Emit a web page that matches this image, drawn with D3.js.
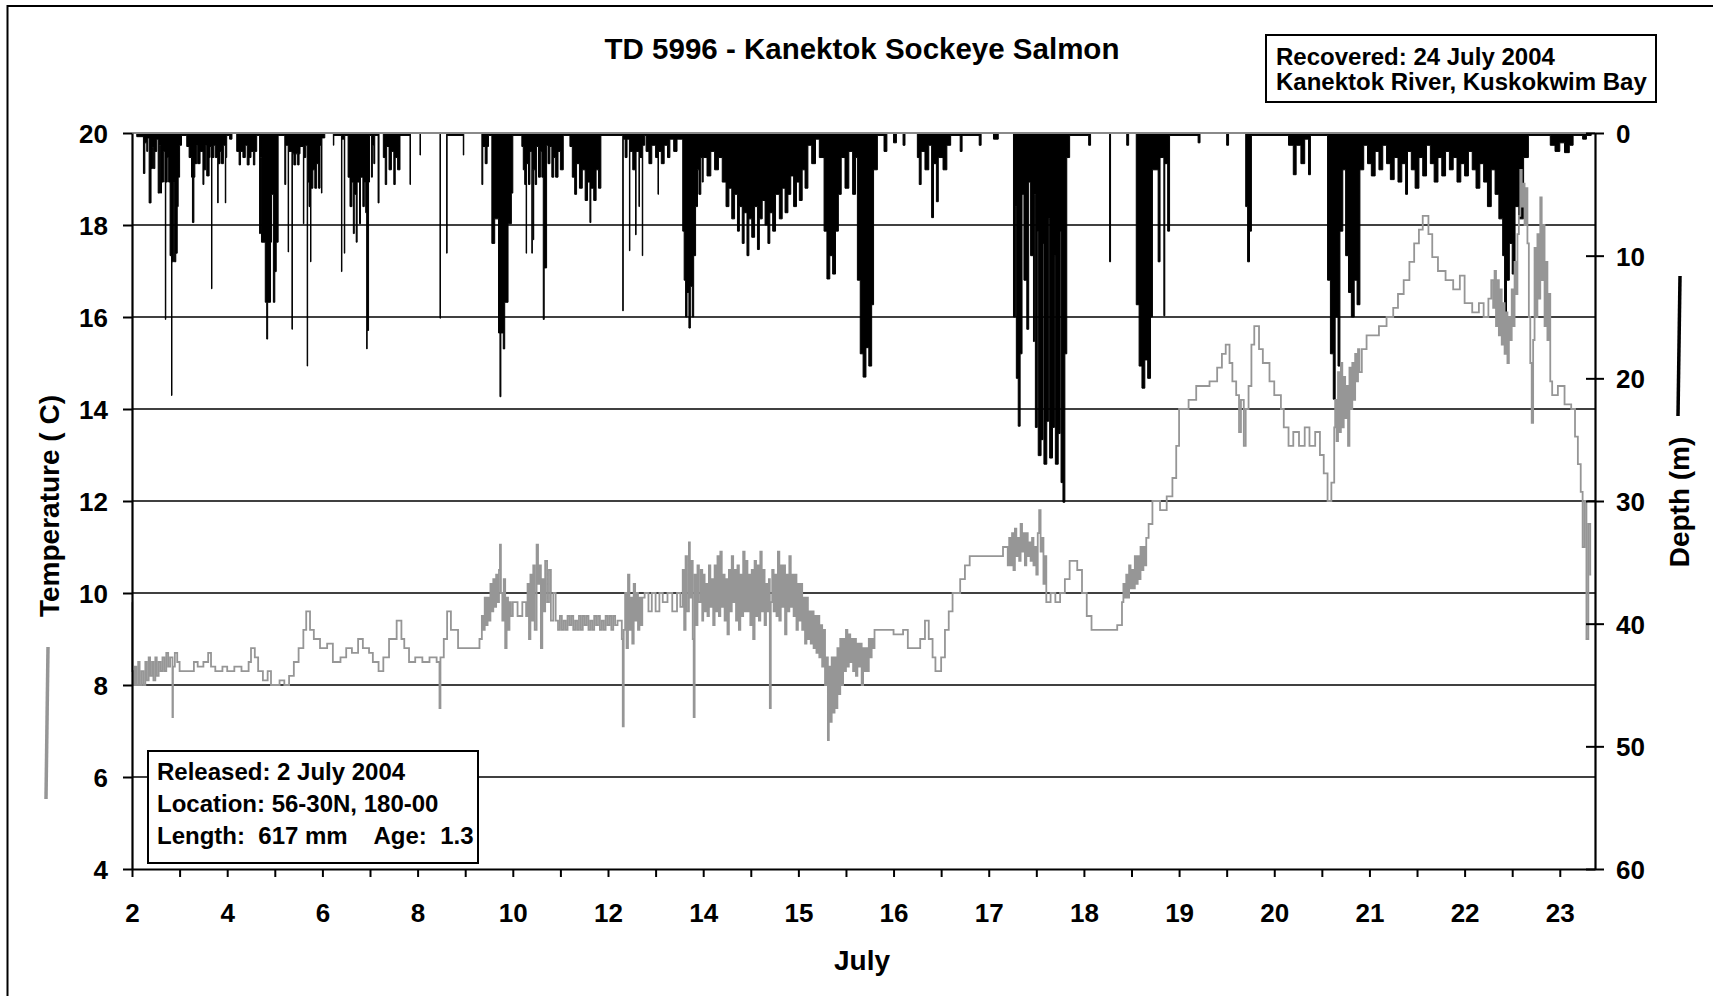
<!DOCTYPE html>
<html><head><meta charset="utf-8">
<script src="https://cdn.jsdelivr.net/npm/d3@7"></script>
<style>
html,body{margin:0;padding:0;background:#fff;}
svg{display:block;font-family:"Liberation Sans",Arial,sans-serif;font-weight:bold;}
</style></head><body>
<svg id="chart" width="1713" height="996"></svg>
<script>
// Temperature (°C) vs July day
const tempSeries = [
[2.00,9.8],[2.005,8.3],[2.02,8.0],[2.06,8.4],[2.09,8.0],[2.13,8.5],[2.16,8.0],[2.20,8.3],[2.24,8.0],[2.28,8.5],[2.31,8.1],[2.35,8.6],[2.38,8.2],[2.42,8.5],[2.45,8.1],[2.49,8.6],[2.52,8.2],[2.56,8.5],[2.60,8.3],[2.64,8.6],[2.68,8.3],[2.72,8.7],[2.76,8.4],[2.80,8.6],[2.85,7.3],[2.86,8.4],[2.90,8.7],[2.95,8.5],[3.00,8.3],[3.18,8.3],[3.30,8.5],[3.38,8.4],[3.50,8.5],[3.60,8.7],[3.66,8.4],[3.75,8.3],[3.90,8.4],[4.00,8.3],[4.15,8.4],[4.30,8.3],[4.45,8.5],[4.50,8.8],[4.58,8.6],[4.65,8.3],[4.75,8.1],[4.85,8.3],[4.92,8.0],[5.10,8.1],[5.20,8.0],[5.30,8.2],[5.40,8.5],[5.50,8.8],[5.60,9.2],[5.66,9.6],[5.74,9.2],[5.82,9.0],[5.95,8.8],[6.10,8.9],[6.22,8.5],[6.38,8.6],[6.50,8.8],[6.62,8.7],[6.75,9.0],[6.85,8.8],[6.98,8.7],[7.06,8.5],[7.18,8.3],[7.28,8.6],[7.40,9.0],[7.56,9.4],[7.66,9.0],[7.72,8.8],[7.82,8.5],[7.95,8.6],[8.10,8.5],[8.25,8.6],[8.40,8.5],[8.46,7.5],[8.48,8.6],[8.55,9.0],[8.62,9.6],[8.70,9.2],[8.85,8.8],[9.10,8.8],[9.30,9.0],
[9.35,9.5],[9.38,9.2],[9.41,9.9],[9.44,9.3],[9.47,9.9],[9.50,9.4],[9.53,10.2],[9.56,9.6],[9.59,10.3],[9.62,9.7],[9.65,10.4],[9.68,9.8],[9.71,10.5],[9.73,11.05],[9.75,10.0],[9.78,9.4],[9.81,10.3],[9.84,8.8],[9.87,9.9],[9.90,9.2],[9.93,9.8],[9.96,9.5],
[10.00,9.8],[10.10,9.5],[10.20,9.8],[10.28,9.5],
[10.31,10.2],[10.34,9.0],[10.37,10.4],[10.40,9.4],[10.43,10.6],[10.46,9.2],[10.50,11.05],[10.53,10.2],[10.56,10.6],[10.59,8.8],[10.62,10.3],[10.65,9.6],[10.68,10.7],[10.72,9.8],[10.76,10.5],[10.80,9.4],[10.85,10.0],[10.90,9.4],
[10.95,9.2],[10.99,9.5],[11.03,9.2],[11.07,9.4],[11.11,9.2],[11.15,9.5],[11.19,9.3],[11.23,9.5],[11.27,9.2],[11.31,9.4],[11.35,9.2],[11.39,9.5],[11.43,9.2],[11.47,9.5],[11.51,9.3],[11.55,9.5],[11.59,9.2],[11.63,9.4],[11.67,9.2],[11.71,9.5],[11.75,9.3],[11.79,9.5],[11.83,9.2],[11.87,9.4],[11.91,9.2],[11.95,9.5],[11.99,9.3],[12.03,9.5],[12.07,9.2],[12.11,9.5],[12.15,9.3],[12.20,9.4],
[12.29,9.0],[12.31,7.1],[12.33,9.2],[12.36,10.0],[12.39,8.8],[12.42,10.4],[12.45,9.2],[12.48,9.9],[12.51,8.9],[12.54,10.2],[12.57,9.4],[12.60,10.0],[12.63,9.2],[12.66,9.9],[12.69,9.3],[12.72,9.9],[12.77,10.0],
[12.85,9.6],[12.92,10.0],[13.00,9.6],[13.08,10.0],[13.15,9.8],[13.25,10.0],[13.35,9.6],[13.45,10.0],[13.52,9.7],
[13.57,10.5],[13.60,9.2],[13.63,10.8],[13.66,9.6],[13.70,11.1],[13.72,9.9],[13.75,10.7],[13.78,9.0],[13.80,7.3],[13.82,10.4],[13.85,9.3],[13.88,10.6],[13.91,9.8],[13.95,10.5],[13.98,9.4],
[14.000,10.4],[14.015,9.6],[14.030,10.2],[14.045,9.5],[14.060,10.6],[14.075,9.7],[14.090,10.3],[14.105,9.3],[14.120,10.6],[14.135,9.6],[14.150,10.8],[14.165,9.5],[14.180,10.9],[14.195,9.7],[14.210,10.4],[14.225,9.4],[14.240,10.3],[14.255,9.1],[14.270,10.5],[14.285,9.6],[14.300,10.8],[14.315,9.8],[14.330,10.5],[14.345,9.4],[14.360,10.6],[14.375,9.2],[14.390,10.4],[14.405,9.5],[14.420,10.9],[14.435,9.6],[14.450,10.7],[14.465,9.6],[14.480,10.4],[14.495,9.3],[14.510,10.5],[14.525,9.0],[14.540,10.7],[14.555,9.5],[14.570,10.6],[14.585,9.4],[14.600,10.9],[14.615,9.6],[14.630,10.5],[14.645,9.3],[14.660,10.2],[14.675,9.6],[14.690,10.3],[14.700,7.5],[14.710,9.8],[14.725,10.5],[14.740,9.6],[14.755,10.4],[14.770,9.5],[14.785,10.9],[14.800,9.4],[14.815,10.6],[14.830,9.7],[14.845,10.6],[14.860,9.1],[14.875,10.4],[14.890,9.6],[14.905,10.8],[14.920,9.7],[14.935,10.4],[14.950,9.5],[14.965,10.4],[14.980,9.2],[14.995,10.2],[15.010,9.4],[15.025,10.2],[15.040,9.2],[15.055,9.9],[15.070,8.9],[15.085,9.9],[15.100,9.0],
[15.115,9.6],[15.130,8.9],[15.145,9.6],[15.160,8.8],[15.175,9.5],[15.190,8.7],[15.205,9.5],[15.220,8.6],[15.235,9.3],[15.250,8.4],[15.265,9.2],[15.280,8.0],[15.295,8.6],[15.310,6.8],[15.320,8.4],[15.335,7.2],[15.350,8.6],[15.365,7.4],[15.380,8.6],[15.395,7.5],[15.410,8.8],[15.425,7.8],[15.440,9.0],[15.455,8.0],[15.470,9.0],[15.485,8.3],[15.500,9.2],[15.515,8.4],[15.530,9.1],[15.545,8.5],[15.560,9.0],[15.575,8.3],[15.590,9.0],[15.605,8.2],[15.620,8.9],[15.635,8.4],[15.650,8.9],[15.665,8.0],[15.680,8.8],[15.695,8.3],[15.710,8.8],[15.725,8.3],[15.740,9.0],[15.755,8.6],[15.770,9.0],[15.785,8.8],[15.800,9.2],
[15.90,9.2],[16.00,9.1],[16.10,9.2],[16.15,8.8],[16.28,9.0],[16.33,9.4],[16.37,9.0],[16.41,8.6],[16.44,8.3],[16.50,8.6],[16.54,9.2],[16.58,9.6],[16.62,10.0],[16.70,10.3],[16.75,10.6],[16.80,10.8],[17.10,10.8],[17.15,11.0],
[17.200,10.6],[17.215,11.2],[17.230,10.6],[17.245,11.3],[17.260,10.5],[17.275,11.4],[17.290,10.8],[17.305,11.2],[17.320,10.7],[17.335,11.5],[17.350,10.9],[17.365,11.3],[17.380,10.6],[17.395,11.3],[17.410,10.8],[17.425,11.1],[17.440,10.7],[17.455,11.2],[17.470,10.6],[17.485,11.0],[17.500,10.4],[17.515,11.3],[17.530,11.8],[17.545,10.9],[17.560,11.2],[17.575,10.2],[17.590,10.8],[17.605,9.8],
[17.65,10.0],[17.70,9.8],[17.75,10.0],[17.80,10.3],[17.85,10.7],[17.93,10.5],[17.98,10.0],[18.03,9.5],[18.08,9.2],[18.35,9.3],[18.40,9.8],
[18.415,10.2],[18.430,9.9],[18.445,10.4],[18.460,9.9],[18.475,10.6],[18.490,10.1],[18.505,10.5],[18.520,10.1],[18.535,10.8],[18.550,10.2],[18.565,10.8],[18.580,10.3],[18.595,11.0],[18.610,10.5],[18.625,11.0],[18.640,10.6],[18.655,11.2],
[18.68,11.5],[18.72,12.0],[18.80,11.8],[18.87,12.1],[18.93,12.5],[18.97,13.2],[19.00,14.0],[19.10,14.2],[19.18,14.5],[19.32,14.6],[19.40,14.9],[19.45,15.2],[19.49,15.4],[19.53,15.0],[19.56,14.6],[19.60,14.3],[19.63,13.5],[19.65,14.2],[19.68,13.2],[19.70,14.0],[19.73,14.5],[19.76,15.4],[19.79,15.8],[19.84,15.3],[19.88,15.0],[19.95,14.6],[20.00,14.3],[20.07,14.0],[20.10,13.6],[20.15,13.2],[20.20,13.5],[20.26,13.2],[20.32,13.6],[20.37,13.2],[20.43,13.5],[20.48,13.0],[20.52,12.6],[20.56,12.0],[20.60,12.4],[20.63,13.6],
[20.640,14.2],[20.655,13.3],[20.670,14.8],[20.685,13.5],[20.700,15.0],[20.715,13.6],[20.730,14.7],[20.745,13.8],[20.760,14.5],[20.775,13.2],[20.790,14.9],[20.805,14.0],[20.820,15.0],[20.835,14.2],[20.850,15.2],[20.865,14.6],[20.880,15.3],[20.895,14.8],
[20.92,15.3],[20.97,15.6],[21.05,15.6],[21.10,15.8],[21.18,16.0],[21.25,16.2],[21.30,16.5],[21.36,16.8],[21.42,17.2],[21.47,17.6],[21.52,17.9],[21.56,18.2],[21.62,17.8],[21.66,17.3],[21.72,17.0],[21.80,16.8],[21.88,16.6],[21.95,16.9],[22.00,16.3],[22.08,16.1],[22.15,16.3],[22.20,16.0],[22.25,16.4],[22.28,16.8],
[22.300,16.2],[22.315,17.0],[22.330,15.8],[22.345,16.8],[22.360,15.6],[22.375,16.6],[22.390,15.4],[22.405,16.3],[22.420,15.2],[22.435,16.1],[22.450,15.0],[22.465,16.0],[22.480,15.5],[22.495,16.6],[22.510,15.8],[22.525,17.2],[22.540,16.5],[22.555,17.8],[22.570,18.2],[22.585,19.2],[22.600,18.4],[22.615,18.9],[22.630,18.0],[22.645,18.8],[22.660,17.6],[22.675,16.0],[22.690,15.0],[22.705,13.7],[22.720,15.5],[22.735,17.5],[22.750,16.0],[22.765,17.8],[22.780,16.4],[22.795,18.6],[22.810,16.8],[22.825,18.0],[22.840,15.8],[22.855,17.2],[22.870,15.5],[22.885,16.5],[22.900,14.6],
[22.92,14.3],[22.98,14.5],[23.05,14.1],[23.12,14.0],[23.16,13.4],[23.19,12.8],[23.22,12.2],[23.24,11.0],[23.26,12.0],[23.28,9.0],[23.30,11.5],[23.32,10.4],[23.33,10.4]
];

// Depth (m) vs July day
const depthSeries = [
[2.00,0],[2.10,0.3],[2.24,3.3],[2.27,0.8],[2.31,1.5],[2.33,0.4],[2.36,5.7],[2.40,2.9],[2.43,1.2],[2.45,2.9],[2.48,1.5],[2.52,0.5],[2.55,4.9],[2.58,1.0],[2.60,4.9],[2.62,4.0],[2.66,1.5],[2.69,4.0],[2.70,15.2],[2.71,4.0],[2.74,2.0],[2.77,4.0],[2.80,10.0],[2.83,21.4],[2.84,10.5],[2.87,4.0],[2.89,10.5],[2.92,9.8],[2.95,6.0],[2.97,3.6],[3.00,1.0],[3.04,0.2],
[3.15,1.1],[3.20,2.0],[3.25,3.6],[3.27,7.3],[3.30,3.6],[3.32,2.5],[3.36,1.0],[3.38,2.5],[3.43,1.5],[3.49,4.2],[3.51,3.0],[3.55,1.0],[3.57,3.5],[3.62,2.0],[3.64,1.1],[3.67,12.7],[3.68,2.0],[3.72,1.0],[3.75,2.0],[3.80,5.7],[3.81,2.5],[3.85,1.5],[3.88,2.5],[3.92,1.0],[3.96,5.7],[3.97,2.0],[3.99,0.2],
[4.05,0.5],[4.10,0],[4.20,1.5],[4.25,2.6],[4.28,1.5],[4.33,2.0],[4.38,1.0],[4.42,2.6],[4.46,2.0],[4.50,1.5],[4.55,2.6],[4.58,1.5],[4.62,0.2],[4.68,8.2],[4.70,2.0],[4.72,8.9],[4.80,13.8],[4.83,16.8],[4.85,13.8],[4.91,8.9],[4.93,5.0],[4.97,13.8],[5.00,11.3],[5.03,8.9],[5.07,0.2],
[5.21,4.2],[5.23,1.0],[5.28,9.7],[5.29,1.5],[5.36,16.0],[5.37,1.7],[5.40,2.6],[5.44,1.7],[5.48,2.6],[5.51,1.7],[5.53,1.1],[5.60,7.4],[5.61,2.0],[5.65,1.0],[5.68,19.0],[5.69,4.0],[5.72,6.0],[5.75,10.5],[5.76,4.5],[5.80,3.0],[5.84,4.5],[5.88,2.5],[5.92,4.5],[5.95,1.0],[5.98,4.9],[5.99,0.4],[6.05,0],[6.23,1.0],[6.24,0.2],[6.40,11.3],[6.41,0.5],[6.46,9.8],[6.47,0.2],
[6.54,3.6],[6.58,6.0],[6.62,4.0],[6.65,8.2],[6.67,5.0],[6.71,8.9],[6.73,4.0],[6.78,7.4],[6.80,3.6],[6.85,6.0],[6.88,4.0],[6.91,6.5],[6.93,17.6],[6.94,16.1],[6.97,4.0],[6.99,0.2],[7.03,3.6],[7.05,1.0],[7.08,2.5],[7.10,0.2],[7.17,5.7],[7.19,0],
[7.28,2.0],[7.32,4.2],[7.35,1.1],[7.40,3.0],[7.45,1.5],[7.50,4.2],[7.53,2.0],[7.58,3.0],[7.63,0.2],[7.84,4.2],[7.85,0],[8.05,1.8],[8.06,0],[8.47,15.1],[8.48,0],[8.61,9.8],[8.62,0.2],[8.96,1.8],[8.97,0],
[9.35,4.2],[9.37,1.1],[9.42,2.5],[9.46,1.1],[9.49,0.2],[9.56,9.0],[9.62,7.0],[9.70,16.3],[9.73,21.5],[9.75,16.3],[9.80,17.6],[9.83,13.8],[9.90,7.4],[9.97,4.9],[10.00,0.2],
[10.19,1.1],[10.22,3.0],[10.25,4.2],[10.28,9.8],[10.29,2.5],[10.33,4.2],[10.36,1.5],[10.40,9.8],[10.41,3.0],[10.43,8.7],[10.44,3.0],[10.47,4.2],[10.50,1.1],[10.54,3.6],[10.58,1.5],[10.61,3.6],[10.64,15.2],[10.66,11.0],[10.71,1.0],[10.74,2.5],[10.78,1.1],[10.82,3.6],[10.86,2.0],[10.90,3.6],[10.95,1.5],[11.00,3.0],[11.06,0.2],
[11.20,1.1],[11.25,3.6],[11.30,5.0],[11.34,2.5],[11.40,4.5],[11.46,3.0],[11.52,5.5],[11.57,4.0],[11.62,7.3],[11.64,4.5],[11.70,5.5],[11.75,3.0],[11.80,4.5],[11.85,0.2],
[12.00,0.2],[12.31,14.5],[12.32,0.5],[12.36,2.0],[12.40,0.5],[12.45,9.6],[12.46,1.5],[12.52,3.0],[12.58,8.3],[12.59,1.5],[12.65,6.0],[12.66,2.0],[12.72,10.0],[12.73,1.0],[12.77,0.2],[12.80,1.5],[12.86,2.5],[12.92,1.0],[13.00,2.0],[13.05,5.0],[13.06,1.5],[13.12,2.5],[13.18,1.0],[13.25,2.0],[13.30,0.5],[13.38,1.5],[13.45,0.5],[13.57,8.0],[13.60,12.0],[13.63,15.0],[13.66,13.0],[13.70,15.9],[13.73,12.5],[13.77,15.0],[13.80,10.0],[13.84,6.0],[13.88,3.0],[13.91,5.0],[13.95,2.0],[13.98,4.0],
[14.00,2.0],[14.04,3.5],[14.08,1.5],[14.12,3.0],[14.16,2.0],[14.20,4.0],[14.24,6.0],[14.27,4.5],[14.30,7.0],[14.33,5.0],[14.36,8.0],[14.38,6.0],[14.41,9.0],[14.43,6.5],[14.46,10.0],[14.48,7.0],[14.51,8.5],[14.54,6.0],[14.57,9.5],[14.59,7.0],[14.62,5.5],[14.65,7.5],[14.68,9.0],[14.70,6.5],[14.73,8.0],[14.76,5.0],[14.80,7.0],[14.83,4.5],[14.86,6.5],[14.89,5.0],[14.92,3.5],[14.95,6.0],[14.98,4.0],[15.01,5.5],[15.04,3.0],[15.07,4.5],[15.10,1.0],[15.14,2.5],[15.18,0.5],[15.22,2.0],
[15.27,8.0],[15.30,11.9],[15.33,10.0],[15.36,11.5],[15.39,8.0],[15.42,5.0],[15.45,2.0],[15.49,4.5],[15.53,1.5],[15.57,5.0],[15.60,2.0],
[15.62,12.0],[15.65,18.0],[15.68,19.9],[15.71,17.5],[15.74,19.0],[15.77,14.0],[15.79,3.0],[15.83,0.2],[15.90,1.5],[15.93,0],[16.00,0.8],[16.03,0],[16.10,1.0],[16.12,0],
[16.25,2.0],[16.27,4.2],[16.29,1.5],[16.33,3.0],[16.37,1.0],[16.40,6.9],[16.42,2.5],[16.45,5.6],[16.47,2.0],[16.52,3.0],[16.56,1.0],[16.60,0.2],[16.70,1.5],[16.72,0.2],[16.90,1.0],[16.92,0],[17.05,0.5],[17.10,0],
[17.26,15.0],[17.28,6.0],[17.29,20.0],[17.31,23.9],[17.33,18.0],[17.35,5.0],[17.37,12.0],[17.40,16.0],[17.42,4.0],[17.44,10.0],[17.47,17.0],[17.48,5.0],
[17.49,24.0],[17.51,8.0],[17.52,26.3],[17.55,25.0],[17.57,9.0],[17.58,27.0],[17.61,23.5],[17.63,7.0],[17.64,26.5],[17.67,24.0],[17.69,10.0],[17.70,27.0],[17.73,24.5],[17.75,8.0],[17.76,28.5],[17.78,30.1],[17.80,18.0],[17.82,2.0],[17.85,0.2],
[18.05,1.0],[18.07,0],[18.27,10.5],[18.28,0],[18.45,1.0],[18.47,0],
[18.55,14.0],[18.58,19.0],[18.61,20.8],[18.64,18.5],[18.67,20.0],[18.70,15.0],[18.72,3.0],[18.78,10.5],[18.80,2.0],[18.84,14.9],[18.85,2.5],[18.88,8.0],[18.90,0.2],
[19.20,0.8],[19.22,0],[19.50,1.0],[19.52,0],
[19.70,6.0],[19.72,10.5],[19.74,8.0],[19.76,0.2],
[20.15,1.0],[20.20,3.4],[20.23,1.0],[20.28,2.5],[20.32,0.5],[20.36,3.4],[20.38,0.2],
[20.56,12.0],[20.59,18.0],[20.62,21.7],[20.64,15.0],[20.67,19.0],[20.69,8.0],[20.72,3.0],
[20.75,10.0],[20.78,13.0],[20.81,15.0],[20.84,12.0],[20.87,14.0],[20.90,3.0],[20.94,1.0],
[20.98,2.5],[21.02,3.5],[21.06,1.5],[21.10,3.0],[21.14,1.0],[21.18,2.5],[21.22,3.8],[21.26,2.0],[21.30,4.0],[21.34,2.5],[21.38,5.0],[21.40,1.5],[21.44,3.0],[21.48,4.5],[21.52,2.0],[21.56,3.5],[21.60,1.0],[21.64,2.5],[21.68,4.0],[21.72,2.0],[21.76,3.5],[21.80,1.5],[21.84,3.0],[21.88,2.0],[21.92,4.0],[21.96,2.5],[22.00,3.5],[22.04,1.5],[22.08,3.0],[22.12,4.5],[22.16,2.5],[22.20,4.0],[22.24,6.0],[22.28,3.0],[22.32,5.0],[22.36,7.0],
[22.40,10.0],[22.42,15.0],[22.44,12.0],[22.47,9.0],[22.50,11.5],[22.53,6.0],[22.57,7.0],[22.62,2.0],[22.67,0.2],
[22.90,1.0],[22.95,1.5],[23.00,0.8],[23.05,1.6],[23.10,1.0],[23.14,0.2],[23.24,0.5],[23.28,0.2],[23.33,0.2]
];

const xTickLabels = [2,4,6,8,10,12,14,15,16,17,18,19,20,21,22,23];
const tempTicks = [4,6,8,10,12,14,16,18,20];
const tempGrid = [6,8,10,12,14,16,18];
const depthTicks = [0,10,20,30,40,50,60];
const titleText = "TD 5996 - Kanektok Sockeye Salmon";
const recoveredLines = ["Recovered: 24 July 2004", "Kanektok River, Kuskokwim Bay"];
const releasedLines = ["Released: 2 July 2004", "Location: 56-30N, 180-00", "Length:  617 mm    Age:  1.3"];
const xTitle = "July", yLeftTitle = "Temperature ( C)", yRightTitle = "Depth (m)";

const svg = d3.select("#chart");
const L = 132, R = 1595, T = 133, B = 869;
const x = d3.scaleLinear().domain([2, 14, 23.37]).range([L, 703.2, R]);
const yT = d3.scaleLinear().domain([4, 20]).range([B, T]);
const yD = d3.scaleLinear().domain([0, 60]).range([T, B]);

// outer frame
svg.append("rect").attr("x", 7.5).attr("y", 6).attr("width", 1760).attr("height", 1060)
  .attr("fill", "none").attr("stroke", "#000").attr("stroke-width", 2);

// gridlines
svg.append("g").selectAll("line").data(tempGrid).join("line")
  .attr("x1", L).attr("x2", R).attr("y1", d => yT(d)).attr("y2", d => yT(d))
  .attr("stroke", "#000").attr("stroke-width", 1.3);

// depth series
const depthArea = d3.area().x(d => x(d[0])).y0(yD(0)).y1(d => yD(d[1])).curve(d3.curveStepAfter);
svg.append("path").datum(depthSeries).attr("d", depthArea)
  .attr("fill", "#000").attr("stroke", "#000").attr("stroke-width", 1);

// temperature series
const tempLine = d3.line().x(d => x(d[0])).y(d => yT(d[1])).curve(d3.curveStepAfter);
svg.append("path").datum(tempSeries).attr("d", tempLine)
  .attr("fill", "none").attr("stroke", "#969696").attr("stroke-width", 1.8);

// top border of plot
svg.append("line").attr("x1", L).attr("x2", R).attr("y1", T).attr("y2", T)
  .attr("stroke", "#8a8a8a").attr("stroke-width", 2);

// x axis
const labelPos = xTickLabels;
const minorPos = d3.pairs(labelPos).map(([a, b]) => (a + b) / 2);
const allTicks = labelPos.concat(minorPos).sort((a, b) => a - b);
const gx = svg.append("g").attr("transform", `translate(0,${B})`)
  .call(d3.axisBottom(x).tickValues(allTicks).tickSize(8).tickSizeOuter(0)
    .tickFormat(d => labelPos.includes(d) ? d : ""));
gx.select(".domain").attr("stroke-width", 2.2);
gx.selectAll(".tick line").attr("stroke-width", 2);
gx.selectAll(".tick text").attr("y", 53).attr("dy", null)
  .attr("font-size", 26).attr("font-family", "Liberation Sans, Arial, sans-serif").attr("font-weight", "bold");

// left axis
const gl = svg.append("g").attr("transform", `translate(${L},0)`)
  .call(d3.axisLeft(yT).tickValues(tempTicks).tickSize(9).tickSizeOuter(0).tickPadding(15));
gl.select(".domain").attr("stroke-width", 2.2);
gl.selectAll(".tick line").attr("stroke-width", 2);
gl.selectAll(".tick text").attr("font-size", 26).attr("dy", "0.36em")
  .attr("font-family", "Liberation Sans, Arial, sans-serif").attr("font-weight", "bold");

// right axis
const gr = svg.append("g").attr("transform", `translate(${R},0)`)
  .call(d3.axisRight(yD).tickValues(depthTicks).tickSize(9).tickSizeOuter(0).tickPadding(12));
gr.select(".domain").attr("stroke-width", 2.2);
gr.selectAll(".tick line").attr("x1", -9).attr("stroke-width", 2);
gr.selectAll(".tick text").attr("font-size", 26).attr("dy", "0.36em")
  .attr("font-family", "Liberation Sans, Arial, sans-serif").attr("font-weight", "bold");

// title
svg.append("text").attr("x", 862).attr("y", 59).attr("text-anchor", "middle")
  .attr("font-size", 29.5).text(titleText);

// axis titles
svg.append("text").attr("x", 862).attr("y", 970).attr("text-anchor", "middle")
  .attr("font-size", 28).text(xTitle);
svg.append("text").attr("transform", "translate(59,506) rotate(-90)").attr("text-anchor", "middle")
  .attr("font-size", 28).text(yLeftTitle);
svg.append("text").attr("transform", "translate(1689,502) rotate(-90)").attr("text-anchor", "middle")
  .attr("font-size", 28).text(yRightTitle);

// series key strokes beside axis titles
svg.append("line").attr("x1", 48).attr("y1", 647).attr("x2", 46).attr("y2", 799)
  .attr("stroke", "#969696").attr("stroke-width", 3.5);
svg.append("line").attr("x1", 1680).attr("y1", 276).attr("x2", 1678).attr("y2", 416)
  .attr("stroke", "#000").attr("stroke-width", 3.5);

// recovered box
svg.append("rect").attr("x", 1266).attr("y", 35).attr("width", 390).attr("height", 67)
  .attr("fill", "#fff").attr("stroke", "#000").attr("stroke-width", 2);
svg.append("g").selectAll("text").data(recoveredLines).join("text")
  .attr("x", 1276).attr("y", (d, i) => 65 + i * 25).attr("font-size", 24).text(d => d);

// released box
svg.append("rect").attr("x", 148).attr("y", 751).attr("width", 330).attr("height", 112)
  .attr("fill", "#fff").attr("stroke", "#000").attr("stroke-width", 2);
svg.append("g").selectAll("text").data(releasedLines).join("text")
  .attr("x", 157).attr("y", (d, i) => 780 + i * 32).attr("font-size", 24)
  .style("white-space", "pre").text(d => d);
</script>
</body></html>
